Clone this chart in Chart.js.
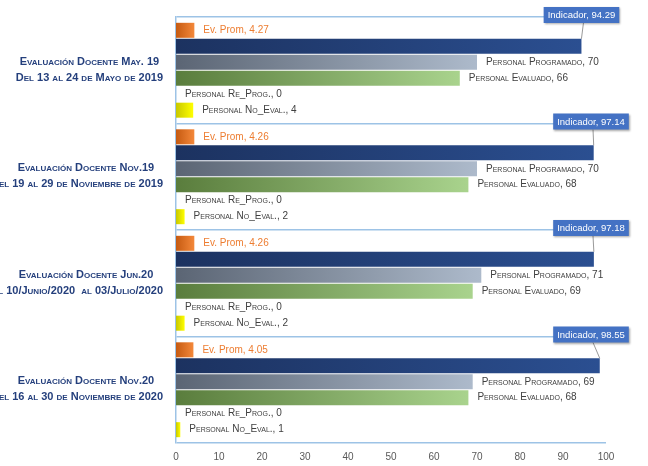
<!DOCTYPE html>
<html lang="es">
<head>
<meta charset="UTF-8">
<title>Evaluación Docente</title>
<style>
  html, body { margin: 0; padding: 0; background: #fff; }
  #wrap { width: 648px; height: 466px; }
</style>
<script src="https://cdn.jsdelivr.net/npm/chart.js"></script>
</head>
<body>
<div id="wrap"><canvas id="chart" width="648" height="466"></canvas></div>
<script>
// datos
const periodos = [
  ['Evaluación Docente May. 19', 'Del 13 al 24 de Mayo de 2019'],
  ['Evaluación Docente Nov.19', 'Del 19 al 29 de Noviembre de 2019'],
  ['Evaluación Docente Jun.20', 'Del 10/Junio/2020  al 03/Julio/2020'],
  ['Evaluación Docente Nov.20', 'Del 16 al 30 de Noviembre de 2020']
];
const evProm = [4.27, 4.26, 4.26, 4.05];
const indicador = [94.29, 97.14, 97.18, 98.55];
const programado = [70, 70, 71, 69];
const evaluado = [66, 68, 69, 68];
const reProg = [0, 0, 0, 0];
const noEval = [4, 2, 2, 1];
const xTicks = [0, 10, 20, 30, 40, 50, 60, 70, 80, 90, 100];

const FAM = "'Liberation Sans', Arial, sans-serif";

// degradado horizontal desde el eje hasta el final de cada barra
function degradado(c0, c1) {
  return (ctx) => {
    const chart = ctx.chart;
    const area = chart.chartArea;
    if (!area || ctx.type !== 'data') return c1;
    const x = chart.scales.x;
    let fin = x.getPixelForValue(ctx.raw);
    if (fin < area.left + 2) fin = area.left + 2;
    const g = chart.ctx.createLinearGradient(area.left, 0, fin, 0);
    g.addColorStop(0, c0);
    g.addColorStop(1, c1);
    return g;
  };
}

// etiquetas del eje de categorias: dos lineas centradas entre si
const etiquetasEje = {
  id: 'etiquetasEje',
  afterDraw(chart) {
    const c = chart.ctx;
    const yScale = chart.scales.y;
    const derecha = yScale.right - 13;
    c.save();
    c.font = 'small-caps bold 11px ' + FAM;
    c.fillStyle = '#243f7c';
    c.textAlign = 'center';
    c.textBaseline = 'middle';
    periodos.forEach((lineas, j) => {
      const y = yScale.getPixelForTick(j);
      const w2 = c.measureText(lineas[1]).width;
      const centro = derecha - Math.min(w2, 154) / 2;
      c.fillText(lineas[0], centro, y - 8.5);
      c.fillText(lineas[1], derecha - w2 / 2, y + 7.5);
    });
    c.restore();
  }
};

// etiquetas de datos (no hay plugin datalabels)
const etiquetas = {
  id: 'etiquetas',
  afterDatasetsDraw(chart) {
    const c = chart.ctx;
    const yScale = chart.scales.y;
    const catH = yScale.height / periodos.length;
    c.save();
    c.textBaseline = 'middle';
    c.textAlign = 'left';
    chart.data.datasets.forEach((ds, i) => {
      const meta = chart.getDatasetMeta(i);
      meta.data.forEach((bar, j) => {
        const v = ds.data[j];
        if (i === 0) {
          c.font = '10px ' + FAM;
          c.fillStyle = '#ed7d31';
          c.fillText('Ev. Prom, ' + v.toFixed(2), bar.x + 9, bar.y);
        } else if (i === 1) {
          const txt = 'Indicador, ' + v.toFixed(2);
          c.font = '9.5px ' + FAM;
          const w = c.measureText(txt).width + 8;
          const h = 16;
          const cx = Math.min(bar.x, 591);
          const cy = yScale.getPixelForTick(j) - catH / 2 - 2;
          // linea guia
          c.strokeStyle = '#7f7f7f';
          c.lineWidth = 0.8;
          c.beginPath();
          c.moveTo(cx + 2, cy + h / 2);
          c.lineTo(bar.x, bar.y - bar.height / 2);
          c.stroke();
          c.shadowColor = 'rgba(0,0,0,0.35)';
          c.shadowBlur = 2;
          c.shadowOffsetX = 1;
          c.shadowOffsetY = 1;
          c.fillStyle = '#4472c4';
          c.fillRect(cx - w / 2, cy - h / 2, w, h);
          c.shadowColor = 'transparent';
          c.fillStyle = '#ffffff';
          c.fillText(txt, cx - w / 2 + 4, cy + 0.5);
        } else {
          const nombres = ['', '', 'Personal Programado, ', 'Personal Evaluado, ', 'Personal Re_Prog., ', 'Personal No_Eval., '];
          c.font = 'small-caps 10px ' + FAM;
          c.fillStyle = '#404040';
          c.fillText(nombres[i] + v, bar.x + 9, bar.y);
        }
      });
    });
    c.restore();
  }
};

new Chart(document.getElementById('chart'), {
  type: 'bar',
  data: {
    labels: periodos,
    datasets: [
      { label: 'Ev. Prom', data: evProm, backgroundColor: degradado('#c55a11', '#f4883a') },
      { label: 'Indicador', data: indicador, backgroundColor: degradado('#1c3260', '#2b4f91') },
      { label: 'Personal Programado', data: programado, backgroundColor: degradado('#5b6574', '#adbacb') },
      { label: 'Personal Evaluado', data: evaluado, backgroundColor: degradado('#5a7d3d', '#a9d38d') },
      { label: 'Personal Re_Prog.', data: reProg, backgroundColor: '#a5a5a5' },
      { label: 'Personal No_Eval.', data: noEval, backgroundColor: degradado('#c8c800', '#ffff00') }
    ]
  },
  options: {
    indexAxis: 'y',
    responsive: false,
    animation: false,
    categoryPercentage: 0.9,
    barPercentage: 0.94,
    layout: { padding: { top: 17, right: 42, left: 0, bottom: 0 } },
    plugins: {
      legend: { display: false },
      tooltip: { enabled: false }
    },
    scales: {
      x: {
        min: 0,
        max: 100,
        afterBuildTicks: (s) => { s.ticks = xTicks.map(v => ({ value: v })); },
        afterFit: (s) => { s.height = 23; s.paddingLeft = 0; s.paddingRight = 0; },
        grid: { display: false, drawTicks: false },
        border: { display: false },
        ticks: { color: '#595959', padding: 8, font: { size: 10, family: FAM } }
      },
      y: {
        afterFit: (s) => { s.width = 176; s.paddingTop = 0; s.paddingBottom = 0; },
        grid: { offset: true, color: '#9dc3e6', lineWidth: 1.5, drawTicks: false },
        border: { display: true, color: '#9dc3e6', width: 1.5 },
        ticks: { display: false }
      }
    }
  },
  plugins: [etiquetas, etiquetasEje]
});
</script>
</body>
</html>
